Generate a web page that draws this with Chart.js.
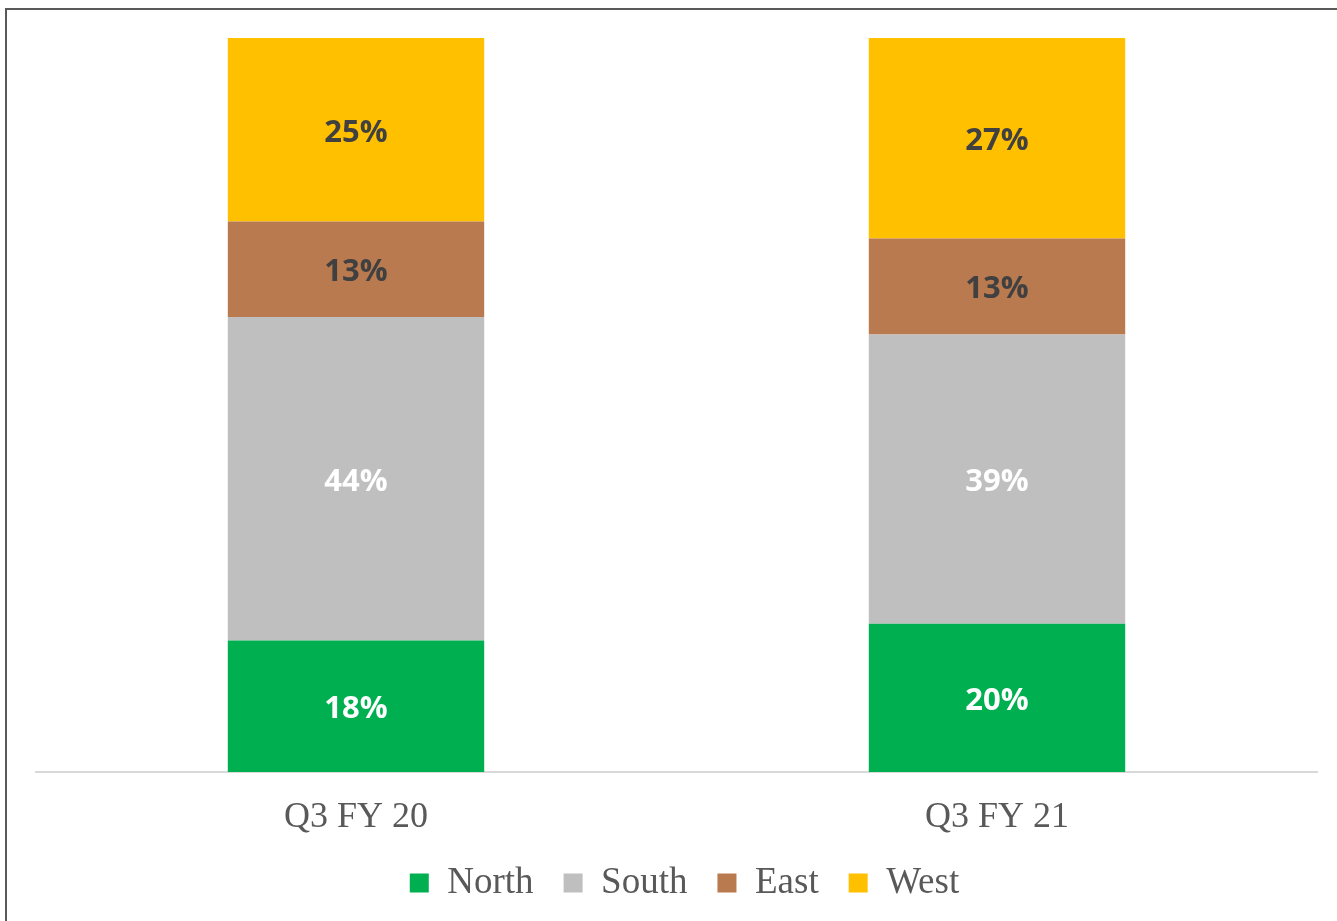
<!DOCTYPE html>
<html>
<head>
<meta charset="utf-8">
<script src="https://cdn.jsdelivr.net/npm/chart.js@4/dist/chart.umd.min.js"></script>
<style>
  html, body { margin: 0; padding: 0; background: #fff; overflow: hidden; }
  #frame {
    position: absolute; left: 5px; top: 8px; width: 1400px; height: 1000px;
    border-top: 2px solid #595959; border-left: 2px solid #595959;
  }
  #wrap { position: absolute; left: 0; top: 0; width: 1337px; height: 921px; }
</style>
</head>
<body>
<div id="frame"></div>
<div id="wrap"><canvas id="regionChart"></canvas></div>
<script>
const categories = ['Q3 FY 20', 'Q3 FY 21'];
const north = [17.9, 20.2];
const south = [44.1, 39.4];
const east = [13.0, 13.1];
const west = [25.0, 27.3];

const serif = '"Liberation Serif", "Times New Roman", serif';

// draws the % value in the middle of each stacked segment
const segmentLabels = {
  id: 'segmentLabels',
  afterDatasetsDraw(chart) {
    const ctx = chart.ctx;
    ctx.save();
    ctx.font = 'bold 31px "Open Sans", sans-serif';
    ctx.textAlign = 'center';
    ctx.textBaseline = 'middle';
    chart.data.datasets.forEach((ds, i) => {
      const meta = chart.getDatasetMeta(i);
      meta.data.forEach((bar, j) => {
        const { x, y, base } = bar.getProps(['x', 'y', 'base'], true);
        ctx.fillStyle = ds.labelColor;
        ctx.fillText(Math.round(ds.data[j]) + '%', x, (y + base) / 2 + 3);
      });
    });
    ctx.restore();
  }
};

const ctx = document.getElementById('regionChart').getContext('2d');

const chart = new Chart(ctx, {
  type: 'bar',
  data: {
    labels: categories,
    datasets: [
      { label: 'North', data: north, backgroundColor: '#00B050', labelColor: '#FFFFFF' },
      { label: 'South', data: south, backgroundColor: '#BFBFBF', labelColor: '#FFFFFF' },
      { label: 'East', data: east, backgroundColor: '#B97A4F', labelColor: '#404040' },
      { label: 'West', data: west, backgroundColor: '#FFC000', labelColor: '#404040' }
    ]
  },
  options: {
    responsive: true,
    maintainAspectRatio: false,
    animation: false,
    categoryPercentage: 1,
    barPercentage: 0.4,
    layout: {
      padding: { left: 35.5, right: 3.5, top: 38, bottom: 9.5 }
    },
    plugins: {
      tooltip: { enabled: false },
      legend: {
        position: 'bottom',
        labels: {
          boxWidth: 19,
          boxHeight: 19,
          padding: 30,
          color: '#595959',
          font: { family: serif, size: 37 }
        }
      }
    },
    scales: {
      x: {
        stacked: true,
        grid: { display: false, drawTicks: false },
        border: { display: true, color: '#D9D9D9', width: 2 },
        ticks: {
          padding: 24,
          color: '#595959',
          font: { family: serif, size: 36 }
        },
        afterFit: scale => { scale.height = 62.5; }
      },
      y: {
        stacked: true,
        position: 'right',
        min: 0,
        max: 100,
        grid: { display: false },
        border: { display: false },
        ticks: { display: false },
        // empty strip on the right so the legend row sits where the original has it
        afterFit: scale => { scale.width = 16; }
      }
    }
  },
  plugins: [segmentLabels]
});
</script>
</body>
</html>
